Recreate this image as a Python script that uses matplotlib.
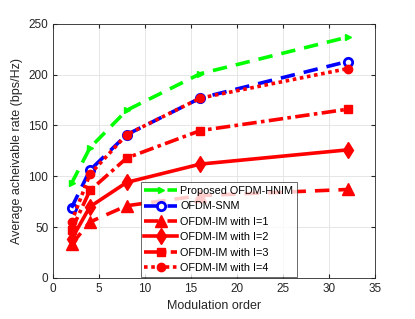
import matplotlib
matplotlib.use("Agg")
import matplotlib.pyplot as plt

plt.rcParams['font.family'] = ['Liberation Sans', 'DejaVu Sans']

M = [2, 4, 8, 16, 32]
hnim = [93, 128, 165, 201, 237]
snm = [69, 106, 141, 177, 213]
im1 = [33, 55, 71, 81, 87]
im2 = [38, 70, 94, 112, 126]
im3 = [47, 86, 118, 145, 166]
im4 = [55, 102, 141, 177, 206]

fig = plt.figure(figsize=(4.15, 3.19), dpi=100)
ax = fig.add_axes([0.128, 0.129, 0.776, 0.796])

lw = 2.6
ax.plot(M, hnim, color=(0, 1, 0), ls=(0, (4, 2.5)), lw=lw, marker='>', ms=4,
        label='Proposed OFDM-HNIM')
ax.plot(M, snm, color=(0, 0, 1), ls=(0, (4, 2.5)), lw=lw, marker='o', ms=6,
        mfc='none', mew=2, label='OFDM-SNM')
ax.plot(M, im1, color='red', ls=(0, (4, 2.5)), lw=lw, marker='^', ms=8,
        label='OFDM-IM with I=1')
ax.plot(M, im2, color='red', ls='-', lw=lw, marker='d', ms=8,
        label='OFDM-IM with I=2')
ax.plot(M, im3, color='red', ls=(0, (4, 1.2, 1, 1.2)), lw=lw, marker='s', ms=6,
        label='OFDM-IM with I=3')
ax.plot(M, im4, color='red', ls=(0, (1, 1)), lw=lw, marker='o', ms=6,
        label='OFDM-IM with I=4')

ax.set_xlim(0, 35)
ax.set_ylim(0, 250)
ax.set_xticks(range(0, 36, 5))
ax.set_yticks(range(0, 251, 50))
ax.grid(True, color='#e6e6e6', lw=0.7)
ax.set_axisbelow(True)
ax.tick_params(direction='in', labelsize=8.5, colors='#262626', length=3,
               top=True, right=True)
for s in ax.spines.values():
    s.set_color('#262626')
    s.set_linewidth(0.6)

ax.set_xlabel('Modulation order', fontsize=9, color='#262626')
ax.set_ylabel('Average acheivable rate (bps/Hz)', fontsize=9, color='#262626')

leg = ax.legend(loc='lower left', bbox_to_anchor=(0.268, 0.0), fontsize=7.8,
                frameon=True, fancybox=False, edgecolor='#262626',
                handlelength=3.0, labelspacing=0.5, borderpad=0.35,
                handletextpad=0.3, borderaxespad=0.1)
leg.get_frame().set_linewidth(0.6)

fig.savefig('out.png', dpi=100)
